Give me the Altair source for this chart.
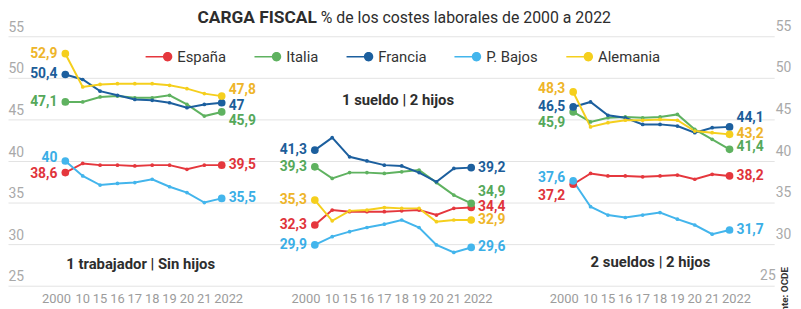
import altair as alt
import pandas as pd

# ---------------- data ----------------
PANELS = ["1 trabajador | Sin hijos", "1 sueldo | 2 hijos", "2 sueldos | 2 hijos"]
YEARS = ["2000", "10", "15", "16", "17", "18", "19", "20", "21", "2022"]
COUNTRIES = ["España", "Italia", "Francia", "P. Bajos", "Alemania"]
Y_TICKS = [25, 30, 35, 40, 45, 50, 55]

TITLE_BOLD = "CARGA FISCAL"
TITLE_REST = "% de los costes laborales de 2000 a 2022"
SOURCE = "Fuente: OCDE"

# panel 1: 1 trabajador | Sin hijos
P1_ESPANA = [38.6, 39.7, 39.5, 39.5, 39.4, 39.5, 39.5, 39.0, 39.5, 39.5]
P1_ITALIA = [47.1, 47.1, 47.7, 47.8, 47.6, 47.6, 47.9, 46.8, 45.4, 45.9]
P1_FRANCIA = [50.4, 49.8, 48.4, 47.9, 47.4, 47.3, 47.0, 46.4, 46.8, 47.0]
P1_PBAJOS = [40.0, 38.2, 37.1, 37.3, 37.4, 37.8, 36.9, 36.2, 35.0, 35.5]
P1_ALEMANIA = [52.9, 48.9, 49.2, 49.3, 49.3, 49.3, 49.1, 48.7, 48.1, 47.8]

# panel 2: 1 sueldo | 2 hijos
P2_ESPANA = [32.3, 34.1, 33.9, 33.9, 33.9, 34.0, 34.1, 33.5, 34.3, 34.4]
P2_ITALIA = [39.3, 37.9, 38.6, 38.6, 38.5, 38.7, 38.9, 37.4, 35.9, 34.9]
P2_FRANCIA = [41.3, 42.8, 40.5, 40.0, 39.5, 39.4, 38.6, 37.5, 39.1, 39.2]
P2_PBAJOS = [29.9, 30.9, 31.5, 32.0, 32.4, 32.9, 32.0, 29.9, 29.0, 29.6]
P2_ALEMANIA = [35.3, 32.8, 34.0, 34.1, 34.4, 34.3, 34.3, 32.7, 32.9, 32.9]

# panel 3: 2 sueldos | 2 hijos
P3_ESPANA = [37.2, 38.5, 38.2, 38.2, 38.1, 38.2, 38.3, 37.8, 38.4, 38.2]
P3_ITALIA = [45.9, 44.7, 45.2, 45.3, 45.2, 45.3, 45.6, 43.8, 42.6, 41.4]
P3_FRANCIA = [46.5, 47.1, 45.5, 45.2, 44.4, 44.4, 44.2, 43.4, 44.0, 44.1]
P3_PBAJOS = [37.6, 34.5, 33.5, 33.2, 33.5, 33.8, 33.0, 32.3, 31.2, 31.7]
P3_ALEMANIA = [48.3, 44.1, 44.6, 44.9, 44.9, 45.0, 44.9, 43.6, 43.4, 43.2]

SERIES = [
    dict(zip(COUNTRIES, [P1_ESPANA, P1_ITALIA, P1_FRANCIA, P1_PBAJOS, P1_ALEMANIA])),
    dict(zip(COUNTRIES, [P2_ESPANA, P2_ITALIA, P2_FRANCIA, P2_PBAJOS, P2_ALEMANIA])),
    dict(zip(COUNTRIES, [P3_ESPANA, P3_ITALIA, P3_FRANCIA, P3_PBAJOS, P3_ALEMANIA])),
]

# ---------------- style / layout ----------------
LINE_COLORS = ["#e5373d", "#5fb260", "#1c5f9e", "#43b5ec", "#f5cf1d"]
LABEL_COLORS = ["#e0343b", "#55a85a", "#1c5d99", "#3aaee6", "#eeb52a"]
W, H = 774, 252
X_MAX = 44.1
PANEL_X0 = [3.3, 17.66, 32.53]
PX_PER_UNIT = H / 30.0
FONT = "Roboto"
# vertical nudges of value labels in px (positive = down)
NUDGE = {
    (0, "P. Bajos", "first"): -3, (0, "España", "first"): 1,
    (0, "Alemania", "last"): -6, (0, "Francia", "last"): 3, (0, "Italia", "last"): 9,
    (1, "Italia", "last"): -11,
    (2, "Alemania", "first"): -3, (2, "Italia", "first"): 11,
    (2, "España", "first"): 12, (2, "P. Bajos", "first"): -3,
    (2, "Francia", "last"): -9, (2, "Italia", "last"): -2,
}


def fmt(v):
    s = f"{v:.1f}"
    if s.endswith(".0"):
        s = s[:-2]
    return s.replace(".", ",")


rows = []
for p, series in enumerate(SERIES):
    for ci, c in enumerate(COUNTRIES):
        vals = series[c]
        for i, v in enumerate(vals):
            pos = "first" if i == 0 else ("last" if i == len(vals) - 1 else "mid")
            nud = NUDGE.get((p, c, pos), 0)
            rows.append({
                "panel": p, "country": c, "x": PANEL_X0[p] + i, "value": v,
                "pos": pos, "label": fmt(v),
                "label_y": v - nud / PX_PER_UNIT,
                "line_color": LINE_COLORS[ci], "label_color": LABEL_COLORS[ci],
            })
df = pd.DataFrame(rows)

tick_rows = []
for p in range(len(PANELS)):
    for i, yl in enumerate(YEARS):
        pos = "first" if i == 0 else ("last" if i == len(YEARS) - 1 else "mid")
        tick_rows.append({"x": PANEL_X0[p] + i, "year": yl, "pos": pos})
ticks_df = pd.DataFrame(tick_rows)

x_enc = alt.X("x:Q", scale=alt.Scale(domain=[0, X_MAX], nice=False, zero=False), axis=None)
y_scale = alt.Scale(domain=[25, 55], nice=False, zero=False)

base = alt.Chart(df)

lines = base.mark_line(strokeWidth=2).encode(
    x=x_enc,
    y=alt.Y("value:Q", scale=y_scale, axis=alt.Axis(
        orient="left", values=Y_TICKS, grid=True, gridColor="#e3e3e3", gridWidth=1,
        ticks=False, tickSize=0, domain=False, labelAlign="left", labelBaseline="bottom",
        labelPadding=0, labelOffset=-2, labelColor="#a9a9a9", labelFontSize=14,
        labelFont=FONT, title=None)),
    color=alt.Color("line_color:N", scale=None),
    detail="panel:N",
)

small = base.transform_filter("datum.pos == 'mid'").mark_circle(size=14, opacity=1).encode(
    x=x_enc,
    y=alt.Y("value:Q", scale=y_scale, axis=alt.Axis(
        orient="right", values=Y_TICKS, grid=False, ticks=False, tickSize=0, domain=False,
        labelAlign={"condition": {"test": "datum.value == 25", "value": "right"}, "value": "left"},
        labelBaseline="bottom", labelPadding=1, labelOffset=-3,
        labelColor="#a9a9a9", labelFontSize=14, labelFont=FONT, title=None)),
    color=alt.Color("line_color:N", scale=None),
)

LEG_PATH = ("M-1,-0.06L0.4,-0.06L0.4,0.06L-1,0.06Z"
            "M0.3,0A0.35,0.35,0,1,1,1,0A0.35,0.35,0,1,1,0.3,0Z")

big = base.transform_filter("datum.pos != 'mid'").mark_circle(size=60, opacity=1).encode(
    x=x_enc,
    y=alt.Y("value:Q", scale=y_scale, axis=None),
    color=alt.Color("country:N", sort=COUNTRIES,
                    scale=alt.Scale(domain=COUNTRIES, range=LINE_COLORS),
                    legend=alt.Legend(orient="none", legendX=139, legendY=7,
                                      direction="horizontal", columns=5, title=None,
                                      symbolType=LEG_PATH, symbolSize=729,
                                      symbolStrokeWidth=0, symbolOpacity=1,
                                      labelFont=FONT, labelFontSize=15, labelColor="#333333",
                                      labelOffset=5, columnPadding=28, padding=0)),
)

lab_first = base.transform_filter("datum.pos == 'first'").mark_text(
    align="right", baseline="middle", dx=-8, font=FONT, fontSize=14, fontWeight="bold"
).encode(
    x=x_enc, y=alt.Y("label_y:Q", scale=y_scale, axis=None), text="label:N",
    color=alt.Color("label_color:N", scale=None),
)
lab_last = base.transform_filter("datum.pos == 'last'").mark_text(
    align="left", baseline="middle", dx=7, font=FONT, fontSize=14, fontWeight="bold"
).encode(
    x=x_enc, y=alt.Y("label_y:Q", scale=y_scale, axis=None), text="label:N",
    color=alt.Color("label_color:N", scale=None),
)

tbase = alt.Chart(ticks_df)
xl = []
for pos, dx in [("first", -9), ("mid", 0), ("last", 7)]:
    xl.append(tbase.transform_filter(f"datum.pos == '{pos}'").mark_text(
        align="center", baseline="middle", dx=dx, font=FONT, fontSize=13, color="#9c9c9c"
    ).encode(x=x_enc, y=alt.value(H + 13), text="year:N"))

def text_layer(txt, x, y, **kw):
    return alt.Chart(pd.DataFrame({"t": [txt]})).mark_text(font=FONT, **kw).encode(
        x=alt.value(x), y=alt.value(y), text="t:N")

sub1 = text_layer(PANELS[0], 134, 230, fontSize=15, fontWeight="bold", color="#2d2d2d", align="center", baseline="middle")
sub2 = text_layer(PANELS[1], 394, 64, fontSize=15, fontWeight="bold", color="#2d2d2d", align="center", baseline="middle")
sub3 = text_layer(PANELS[2], 649, 228, fontSize=15, fontWeight="bold", color="#2d2d2d", align="center", baseline="middle")
t1 = text_layer(TITLE_BOLD, 312, -18, fontSize=17.5, fontWeight="bold", color="#2d2d2d", align="right", baseline="middle")
t2 = text_layer(TITLE_REST, 316, -18, fontSize=16, color="#2d2d2d", align="left", baseline="middle")
src = text_layer(SOURCE, 785, 233, fontSize=10, fontWeight="bold", color="#333333", align="right", baseline="middle", angle=270)

chart = alt.layer(
    lines, small, big, lab_first, lab_last, *xl, sub1, sub2, sub3, t1, t2, src
).resolve_axis(y="independent").properties(
    width=W, height=H,
    autosize=alt.AutoSizeParams(type="none"),
    padding={"left": 0, "top": 27, "right": 19, "bottom": 22},
).configure_view(stroke=None)

chart.save("out.html", embed_options={"renderer": "svg", "actions": False})
